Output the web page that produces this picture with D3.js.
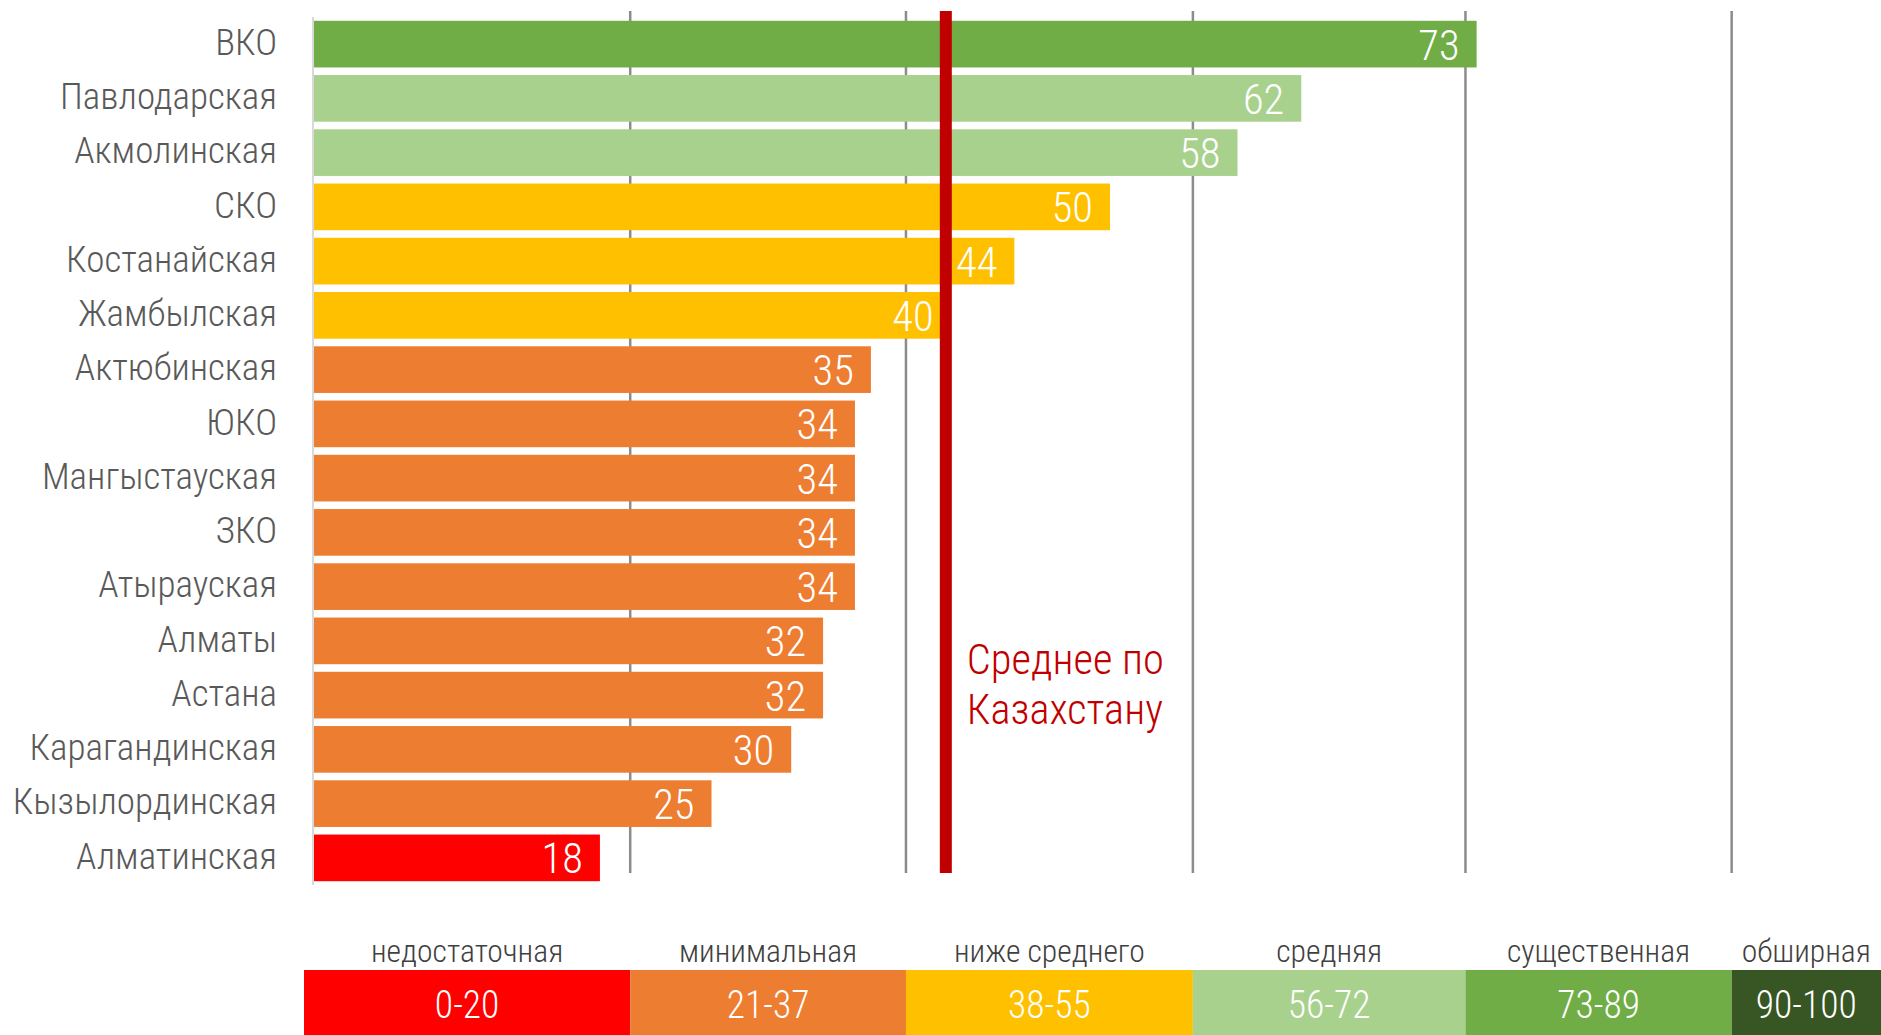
<!DOCTYPE html>
<html>
<head>
<meta charset="utf-8">
<script src="https://cdn.jsdelivr.net/npm/d3@7"></script>
<style>
  html, body { margin: 0; padding: 0; background: #fff; }
  svg { display: block; }
  text { font-family: "Roboto Condensed", Roboto, sans-serif; font-weight: 300; }
</style>
</head>
<body>
<svg id="chart"></svg>
<script>
var regions = ["ВКО", "Павлодарская", "Акмолинская", "СКО", "Костанайская", "Жамбылская",
  "Актюбинская", "ЮКО", "Мангыстауская", "ЗКО", "Атырауская", "Алматы", "Астана",
  "Карагандинская", "Кызылординская", "Алматинская"];
var scores = [73, 62, 58, 50, 44, 40, 35, 34, 34, 34, 34, 32, 32, 30, 25, 18];

var levelNames = ["недостаточная", "минимальная", "ниже среднего", "средняя", "существенная", "обширная"];
var levelRanges = ["0-20", "21-37", "38-55", "56-72", "73-89", "90-100"];
var levelBreaks = [20, 37, 55, 72, 89];
var levelColors = ["#FF0000", "#ED7D31", "#FFC000", "#A9D18E", "#70AD47", "#375623"];
// where the gridlines / legend edges actually sit on the value axis
var levelEdges = [19.9, 37.2, 55.2, 72.3, 89.0];

var kzAverage = 39.7;
var averageLabel = ["Среднее по", "Казахстану"];

var width = 1881, height = 1035;

var svg = d3.select("#chart").attr("width", width).attr("height", height);

var data = regions.map(function(r, i) { return {region: r, score: scores[i]}; });

var x = d3.scaleLinear().domain([0, 100]).range([313, 1907]);
var y = d3.scaleBand().domain(regions).range([17, 885]).paddingInner(0.14).paddingOuter(0.07);
var color = d3.scaleThreshold().domain(levelBreaks.map(function(b) { return b + 0.5; })).range(levelColors);

// squeeze text horizontally if no condensed face is around
var probe = svg.append("text").attr("font-size", 37.5).text("Павлодарская");
var k = Math.min(1, 217 / probe.node().getComputedTextLength());
probe.remove();

function place(sel, fx, fy) {
  sel.attr("transform", function(d, i) {
    return "translate(" + fx(d, i) + "," + fy(d, i) + ") scale(" + k + ",1)";
  });
}

// gridlines at level boundaries
svg.append("g").selectAll("line")
  .data(levelEdges)
  .join("line")
  .attr("x1", function(d) { return x(d); })
  .attr("x2", function(d) { return x(d); })
  .attr("y1", y.range()[0] - 6)
  .attr("y2", y.range()[1] - 12)
  .attr("stroke", "#8c8c8c")
  .attr("stroke-width", 2.5);

svg.append("line")
  .attr("x1", x(0)).attr("x2", x(0))
  .attr("y1", y.range()[0]).attr("y2", y.range()[1])
  .attr("stroke", "#d9d9d9")
  .attr("stroke-width", 2);

svg.append("g").selectAll("rect")
  .data(data)
  .join("rect")
  .attr("x", x(0) + 1)
  .attr("y", function(d) { return y(d.region); })
  .attr("width", function(d) { return x(d.score) - x(0) - 1; })
  .attr("height", y.bandwidth())
  .attr("fill", function(d) { return color(d.score); });

place(svg.append("g").selectAll("text")
  .data(data)
  .join("text")
  .attr("text-anchor", "end")
  .attr("font-size", 37.5)
  .attr("fill", "#595959")
  .text(function(d) { return d.region; }),
  function() { return 277; },
  function(d) { return y(d.region) + y.bandwidth() / 2 + 10.7; });

// average line
svg.append("line")
  .attr("x1", x(kzAverage)).attr("x2", x(kzAverage))
  .attr("y1", y.range()[0] - 6)
  .attr("y2", y.range()[1] - 12)
  .attr("stroke", "#C00000")
  .attr("stroke-width", 12);

place(svg.append("g").selectAll("text")
  .data(data)
  .join("text")
  .attr("text-anchor", "end")
  .attr("font-size", 43)
  .attr("fill", "#fff")
  .text(function(d) { return d.score; }),
  function(d) { return x(d.score) - 17; },
  function(d) { return y(d.region) + y.bandwidth() / 2 + 15.5; });

place(svg.append("g").selectAll("text")
  .data(averageLabel)
  .join("text")
  .attr("font-size", 43)
  .attr("fill", "#C00000")
  .text(function(d) { return d; }),
  function() { return x(kzAverage) + 21; },
  function(d, i) { return 674 + i * 50; });

// legend
var bounds = [0].concat(levelEdges, [100]);
var legend = levelNames.map(function(name, i) {
  var x0 = i === 0 ? x(bounds[0]) - 9 : x(bounds[i]);
  var x1 = Math.min(x(bounds[i + 1]), width);
  return {name: name, range: levelRanges[i], color: levelColors[i], x0: x0, x1: x1};
});

var lg = svg.append("g");
lg.selectAll("rect")
  .data(legend)
  .join("rect")
  .attr("x", function(d) { return d.x0; })
  .attr("y", 970)
  .attr("width", function(d) { return d.x1 - d.x0; })
  .attr("height", height - 970)
  .attr("fill", function(d) { return d.color; });

place(lg.selectAll("text.name")
  .data(legend)
  .join("text")
  .attr("class", "name")
  .attr("text-anchor", "middle")
  .attr("font-size", 32)
  .attr("fill", "#404040")
  .text(function(d) { return d.name; }),
  function(d) { return (d.x0 + d.x1) / 2; },
  function() { return 962; });

place(lg.selectAll("text.range")
  .data(legend)
  .join("text")
  .attr("class", "range")
  .attr("text-anchor", "middle")
  .attr("font-size", 38)
  .attr("font-weight", 400)
  .attr("fill", "#fff")
  .text(function(d) { return d.range; }),
  function(d) { return (d.x0 + d.x1) / 2; },
  function() { return 1018; });
</script>
</body>
</html>
